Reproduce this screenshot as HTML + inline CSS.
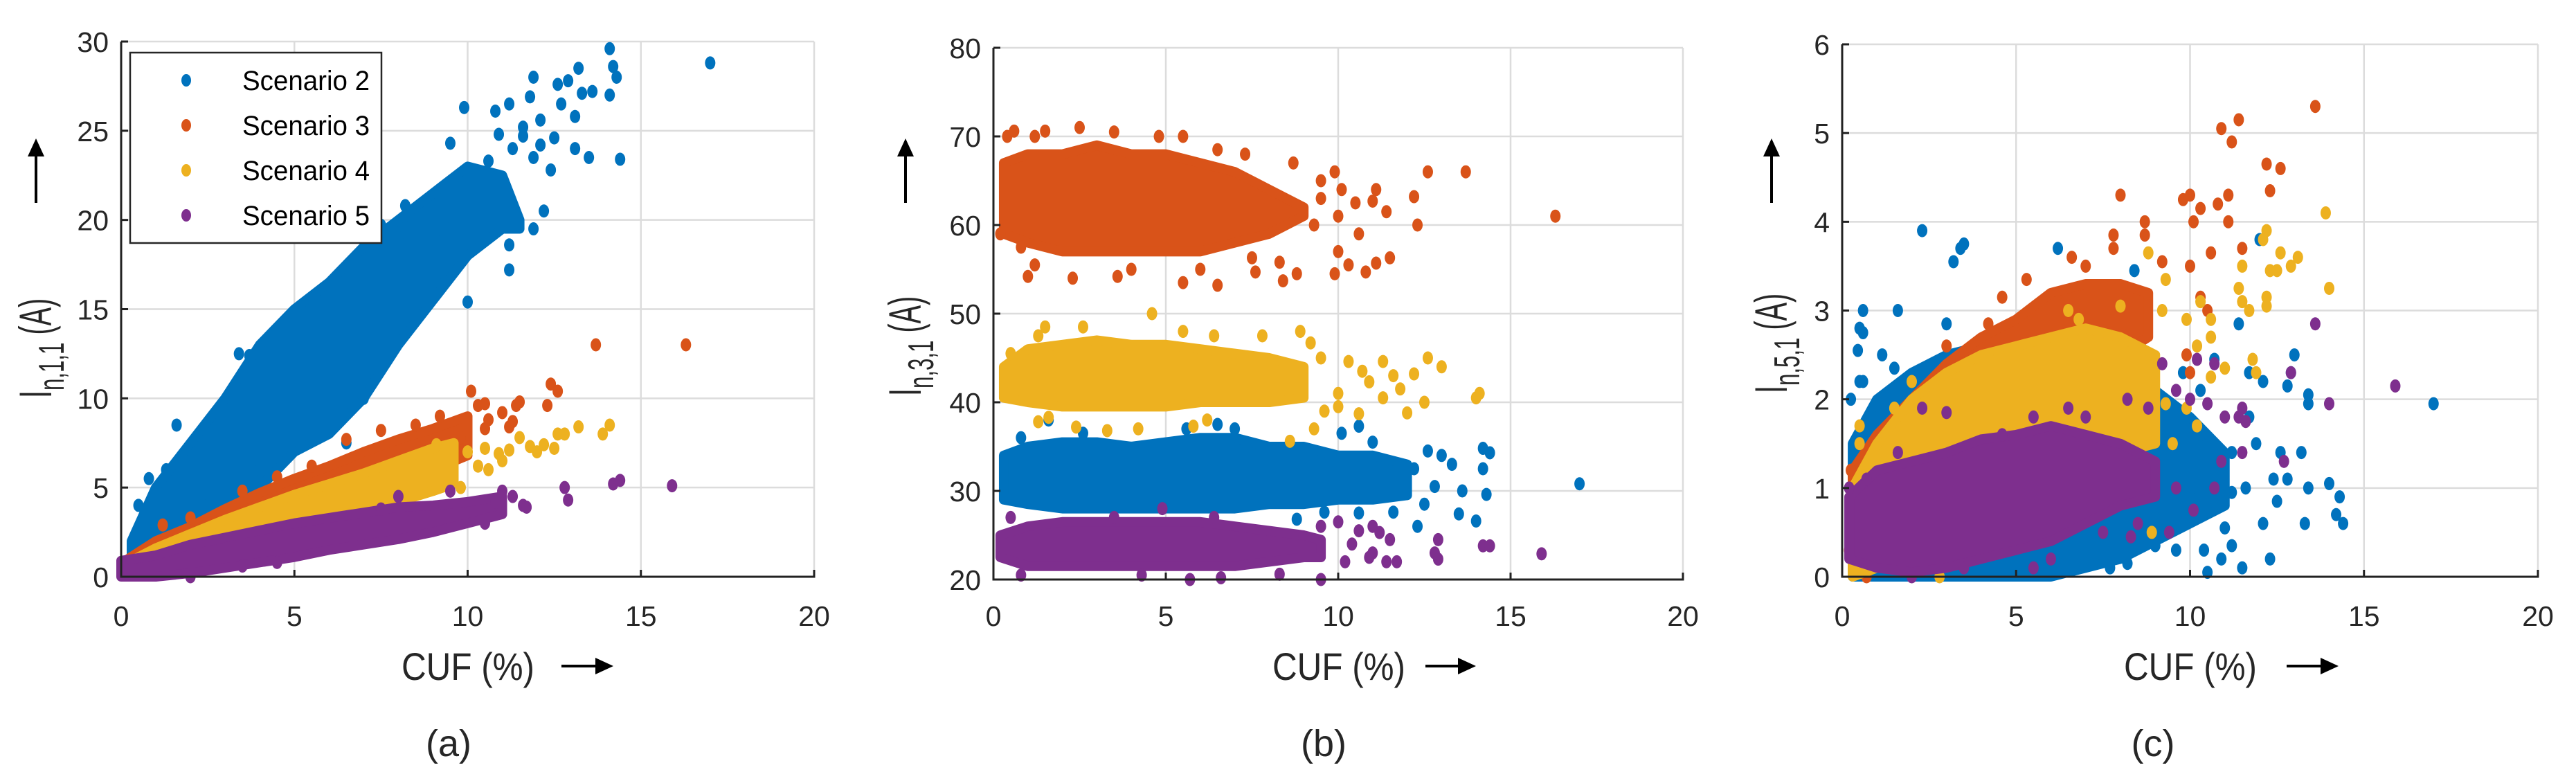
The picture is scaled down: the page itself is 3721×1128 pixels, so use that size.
<!DOCTYPE html>
<html><head><meta charset="utf-8"><style>
html,body{margin:0;padding:0;background:#fff;}
svg{display:block;font-family:"Liberation Sans",sans-serif;}
</style></head><body>
<svg id="fig" width="3721" height="1128" viewBox="0 0 3721 1128" xmlns="http://www.w3.org/2000/svg"></svg>
<script>
// ---------- DATA ----------
const xTicks = [0,5,10,15,20];
const aTicks = [0,5,10,15,20,25,30];
const bTicks = [20,30,40,50,60,70,80];
const cTicks = [0,1,2,3,4,5,6];
const seriesNames = ["Scenario 2","Scenario 3","Scenario 4","Scenario 5"];
const colors = ["#0072BD","#D95319","#EDB120","#7E2F8E"];

// Panel (a) core envelopes [x, lo, hi] and scatter points [x,y]
const a2Env = [[0.3,0.5,2],[1,1.5,5],[2,2.5,7.5],[3,3.5,10],[4,5,13],[5,7,15],[6,8,16.5],[7,10,18.5],[8,13,20],[9,15.5,21.5],[10,18,23],[11,19.5,22.5],[11.5,19.5,20]];
const a2Pts = [[0.5,4],[0.8,5.5],[1.6,8.5],[1.3,6],[2.3,7.2],[3.4,12.5],[3.7,12.4],[4.5,13.6],[5.2,14.2],[5.6,15],[6.1,16.5],[2.5,4],[3,3.5],[4,6],[5.5,8],[6.5,7.5],[7,10],[7.4,11.8],[8.2,13.6],[9.3,16.4],[10,15.4],[9.1,18.8],[10.6,21.5],[9.5,22],[8.2,20.8],[7.5,19.7],[9.5,19.5],[11.2,17.2],[11.2,18.6],[11,20],[11.9,19.5],[12.2,20.5],[11.9,23.5],[12.4,22.8],[11.3,24],[11.6,24.7],[10.9,24.8],[12.1,24.2],[12.5,24.6],[13.1,24],[13.5,23.5],[14.4,23.4],[12.1,25.6],[11.2,26.5],[11.8,26.9],[11.6,25.2],[9.9,26.3],[9.5,24.3],[12.7,26.5],[13.1,25.8],[13.3,27.1],[13.6,27.2],[13.2,28.5],[12.6,27.6],[12.9,27.8],[11.9,28],[14.1,27],[14.2,28.6],[14.3,28],[14.1,29.6],[17,28.8],[10.8,26.1],[10.6,23.3],[10.3,22],[8.3,20.3],[8,19]];
const a3Env = [[0.2,0,1],[1,0.5,2],[2,1.2,2.8],[3,1.8,3.8],[4,2.5,4.7],[5,3.2,5.5],[6,3.9,6.2],[7,4.6,7],[8,5.3,7.7],[9,6,8.3],[10,6.8,9]];
const a3Pts = [[1.2,2.9],[2,3.3],[3.5,4.8],[4.5,5.6],[5.5,6.2],[6.5,7.7],[7.5,8.2],[8.5,8.5],[9.2,9],[10.1,10.4],[10.3,9.6],[10.5,9.7],[10.6,8.8],[11,9.2],[11.2,8.4],[11.4,9.6],[11.5,9.8],[11.3,8.7],[12.3,9.6],[12.4,10.8],[12.6,10.4],[13.7,13],[16.3,13],[9.8,7.8],[10.5,8.3],[0.5,0.3],[0.8,0.1]];
const a4Env = [[0.2,0,0.8],[1,0.3,1.6],[2,0.8,2.4],[3,1.3,3.2],[4,1.8,3.9],[5,2.4,4.6],[6,3,5.2],[7,3.6,5.8],[8,4.2,6.5],[9,4.8,7.2],[9.6,5.2,7.5]];
const a4Pts = [[9.5,6.5],[10,7],[10.3,6.2],[10.6,6],[10.5,7.2],[10.9,6.9],[11.2,7.1],[11.5,7.8],[11.8,7.3],[12,7],[12.2,7.4],[12.5,7.2],[12.8,8],[13.2,8.4],[13.9,8],[14.1,8.5],[9.8,5],[9.1,7.4],[11,6.5],[12.6,8]];
const a5Env = [[0,0,0.9],[1,0,1.2],[2,0.2,1.8],[3,0.5,2.2],[4,0.8,2.6],[5,1.1,3],[6,1.5,3.3],[7,1.8,3.6],[8,2.1,3.9],[9,2.5,4],[10,3,4.2],[11,3.5,4.5]];
const a5Pts = [[2,0],[3.5,0.6],[4.5,0.8],[10.5,3],[10.8,4.2],[11,4.8],[11.3,4.5],[11.6,4],[11.7,3.9],[12.8,5],[12.9,4.3],[14.2,5.2],[14.4,5.4],[15.9,5.1],[8,4.5],[9.5,4.8],[7.5,3.8]];

// Panel (b)
const b2Env = [[0.3,29,34],[1,28.5,35],[2,28,35.5],[3,28,35.5],[4,28,35],[5,28,35.5],[6,28,36],[7,28,36],[8,28.5,35],[9,28.5,35],[10,29,34],[11,29,34],[12,29.5,33]];
const b2Pts = [[0.8,36],[2.6,36.5],[5.6,37],[6.5,37.5],[7,37],[10.1,36.5],[10.6,37.3],[11,35.5],[12.6,34.5],[13,34],[13.3,33],[13.6,30],[14.2,34.8],[14.4,34.3],[14.3,29.6],[14.2,32.5],[13.5,27.4],[14,26.6],[12.8,30.5],[12.2,32.5],[11.6,27.6],[10.6,27.5],[9.6,27.6],[8.8,26.8],[12.3,26],[17,30.8],[1.6,38],[12.5,28.5]];
const b3Env = [[0.3,59,67],[1,58,68],[2,57,68],[3,57,69],[4,57,68],[5,57,68],[6,57,67],[7,58,66],[8,59,64],[8.5,60,63],[9,61,62]];
const b3Pts = [[0.4,70],[0.6,70.6],[1.2,70],[1.5,70.6],[2.5,71],[3.5,70.5],[4.8,70],[5.5,70],[6.5,68.5],[7.3,68],[8.7,67],[9.5,65],[9.9,66],[10.1,64],[10.5,62.5],[11.1,64],[11,62.7],[11.4,61.5],[12.2,63.2],[12.3,60],[12.6,66],[13.7,66],[16.3,61],[10.6,59],[10,57],[9.9,54.5],[10.3,55.5],[10.8,54.7],[11.1,55.7],[11.5,56.3],[8.3,55.8],[8.4,53.7],[8.8,54.5],[7.5,56.3],[7.6,54.7],[6.5,53.2],[5.5,53.5],[6,55],[4,55],[3.6,54.2],[2.3,54],[1,54.2],[1.2,55.5],[0.8,57.5],[0.2,59],[9.3,60],[9.5,63],[10,61]];
const b4Env = [[0.3,40.5,44],[1,40,46],[2,39.5,46.5],[3,39.5,47],[4,39.5,46.5],[5,39.5,46.5],[6,40,46],[7,40,45.5],[8,40,45],[9,40.5,44]];
const b4Pts = [[0.5,45.5],[1.3,47.5],[1.5,48.5],[2.6,48.5],[4.6,50],[5.5,48],[6.4,47.5],[7.8,47.5],[8.9,48],[9.2,46.7],[9.5,45],[10,41],[10.3,44.6],[10.7,43.5],[10.9,42.3],[11.3,44.6],[11.6,43],[11.8,41.5],[12.2,43.2],[12.5,40],[12.6,45],[13,44],[12,38.8],[11.3,40.5],[10.6,38.7],[9.6,39],[9.3,37],[8.6,35.6],[6.2,38],[5.8,37.3],[3.3,36.8],[4.2,37],[2.4,37.2],[1.3,37.8],[1.6,38.3],[14,40.5],[14.1,41],[10,39.5]];
const b5Env = [[0.2,22.5,25],[1,21.5,26],[2,21.5,26.5],[3,21.5,26.5],[4,21.5,26.5],[5,21.5,26.5],[6,21.5,26.5],[7,21.5,26],[8,22,25.5],[9,22.5,25],[9.5,22.5,24.5]];
const b5Pts = [[0.5,27],[3.5,27],[4.9,28],[6.4,27],[9.5,26],[10,26.5],[10.6,25.5],[11,26],[11.2,25.3],[11.5,24.5],[11,23],[10.4,24],[10.2,22],[11.4,22],[11.7,22],[12.9,24.5],[12.8,23],[12.9,22.3],[14.2,23.8],[14.4,23.8],[15.9,22.9],[0.8,20.5],[4.3,20.5],[5.7,20],[6.6,20.2],[8.3,20.6],[9.5,20],[10.9,22.5]];

// Panel (c)
const c2Env = [[0.3,0,1.5],[1,0,2],[2,0,2.3],[3,0,2.5],[4,0,2.6],[5,0,2.6],[6,0,2.5],[7,0.1,2.4],[8,0.2,2.3],[9,0.4,2.1],[10,0.6,1.8],[11,0.8,1.4]];
const c2Pts = [[2.3,3.9],[3.4,3.7],[3.5,3.75],[3.2,3.55],[6.2,3.7],[8.4,3.45],[12,3.8],[0.6,3],[0.5,2.8],[0.6,2.75],[1.6,3],[0.45,2.55],[1.15,2.5],[0.5,2.2],[0.6,2.2],[0.25,2],[1.5,2.35],[3,2.85],[2.5,2.35],[4.2,2.7],[9.8,2.3],[10.7,2.45],[11.4,2.85],[11.7,2.3],[12.1,2.2],[13,2.5],[12.9,2.3],[13.4,1.95],[13.4,2.05],[12.8,2.15],[11.7,1.8],[11.9,1.5],[11.2,1.4],[12.6,1.4],[13.2,1.4],[12.4,1.1],[12.8,1.1],[12.5,0.85],[13.4,1],[14,1.05],[14.3,0.9],[14.2,0.7],[14.4,0.6],[13.3,0.6],[12.1,0.6],[12.3,0.2],[11.5,0.1],[11.2,0.35],[11,0.55],[10.9,0.2],[10.5,0.05],[10.4,0.3],[9.6,0.3],[9,0.35],[8.2,0.15],[7.7,0.1],[11.2,0.95],[11.6,1],[10.7,0.85],[10.2,1],[9.4,1.25],[10.3,1.6],[17,1.95],[10.3,2.1]];
const c3Env = [[0.3,0.1,1.2],[1,0.3,1.6],[2,0.6,2],[3,0.9,2.4],[4,1.3,2.7],[5,1.7,2.9],[6,2,3.2],[7,2.3,3.3],[8,2.5,3.3],[8.8,2.7,3.2]];
const c3Pts = [[3,2.6],[4.2,2.85],[4.6,3.15],[5.3,3.35],[6.6,3.6],[7,3.5],[7.8,3.85],[8,4.3],[7.8,3.7],[8.7,3.85],[8.7,4],[9.2,3.55],[9.8,4.25],[10,4.3],[10.1,4],[10.3,4.15],[10,3.5],[10.3,3.15],[10.5,3],[10.8,4.2],[11.1,4.3],[11.1,4],[10.9,5.05],[11.2,4.9],[11.4,5.15],[12.2,4.65],[12.6,4.6],[12.3,4.35],[13.6,5.3],[11.5,3.7],[10.6,3.65],[9.9,2.5],[10,2.3],[0.2,0.3],[0.3,0.5],[0.25,1.2],[0.7,0]];
const c4Env = [[0.3,0,1],[1,0.1,1.5],[2,0.3,2],[3,0.5,2.3],[4,0.7,2.5],[5,0.9,2.6],[6,1.1,2.7],[7,1.3,2.8],[8,1.4,2.7],[9,1.5,2.5]];
const c4Pts = [[0.5,1.7],[0.5,1.5],[2,2.2],[4.5,2.5],[6.5,3],[6.8,2.9],[8,3.05],[8.8,3.65],[9.3,3.35],[9.2,3],[9.9,2.9],[10.2,2.6],[10.3,3.1],[10.6,2.9],[10.6,2.7],[11,2.35],[11.4,3.25],[11.5,3.5],[11.5,3.1],[11.7,3],[11.8,2.45],[11.9,2.3],[12.1,3.8],[12.2,3.9],[12.3,3.45],[12.5,3.45],[12.6,3.65],[12.9,3.5],[13.1,3.6],[13.9,4.1],[14,3.25],[12.2,3.15],[12.2,3.05],[10.6,2.25],[10.2,1.7],[9.5,1.5],[8.9,0.5],[9.3,1.95],[9.9,1.9],[2.8,0],[1.5,1.9]];
const c5Env = [[0.2,0.2,0.9],[1,0.1,1.2],[2,0.05,1.3],[3,0.1,1.4],[4,0.2,1.55],[5,0.3,1.6],[6,0.4,1.7],[7,0.6,1.6],[8,0.8,1.5],[9,0.9,1.3]];
const c5Pts = [[0.2,1],[0.7,1.1],[1.6,1.4],[2.3,1.9],[3,1.85],[4.6,1.6],[5.5,1.8],[6.5,1.9],[7,1.8],[8.2,2],[8.8,1.9],[9.2,2.4],[9.6,2.1],[10,2],[10.2,2.45],[10.5,1.95],[10.7,2.4],[11,1.8],[11.4,1.8],[11.5,1.9],[11.6,1.75],[10.9,1.3],[11.5,1.4],[9.6,1],[9.4,0.5],[8.5,0.6],[8.3,0.45],[10.1,0.75],[10.7,1],[12.7,1.3],[12.9,2.3],[13.6,2.85],[14,1.95],[15.9,2.15],[2,0],[3.5,0.1],[5.5,0.1],[6,0.2],[7.5,0.5]];

// ---------- DRAW ----------
const NS = "http://www.w3.org/2000/svg";
const svg = document.getElementById("fig");
function mk(tag, attrs, parent){
  const e = document.createElementNS(NS, tag);
  for (const k in attrs) e.setAttribute(k, attrs[k]);
  (parent||svg).appendChild(e);
  return e;
}
const panels = [
  {id:"a", L:175, R:1176, T:60, B:833, yMin:0, yMax:30, yTicks:aTicks, sub:"n,1,1",
   ylx:52, yTextY:575, xlabC:676, arr:[811,886], capX:648,
   env:[a2Env,a3Env,a4Env,a5Env], pts:[a2Pts,a3Pts,a4Pts,a5Pts]},
  {id:"b", L:1435, R:2431, T:69, B:837, yMin:20, yMax:80, yTicks:bTicks, sub:"n,3,1",
   ylx:1308, yTextY:572, xlabC:1934, arr:[2059,2132], capX:1912,
   env:[b2Env,b3Env,b4Env,b5Env], pts:[b2Pts,b3Pts,b4Pts,b5Pts]},
  {id:"c", L:2661, R:3666, T:64, B:833, yMin:0, yMax:6, yTicks:cTicks, sub:"n,5,1",
   ylx:2559, yTextY:568, xlabC:3164, arr:[3303,3378], capX:3110,
   env:[c2Env,c3Env,c4Env,c5Env], pts:[c2Pts,c3Pts,c4Pts,c5Pts]}
];
panels.forEach(p => {
  const sx = v => p.L + (v - 0) / 20 * (p.R - p.L);
  const sy = v => p.B - (v - p.yMin) / (p.yMax - p.yMin) * (p.B - p.T);
  const g = mk("g", {});
  
  
  xTicks.forEach(t => {
    const l = mk("line", {x1:sx(t), x2:sx(t), y1:p.T, y2:p.B, stroke:"#dcdcdc", "stroke-width":2.5}, g);
    
    
  });
  p.yTicks.forEach(t => {
    const l = mk("line", {x1:p.L, x2:p.R, y1:sy(t), y2:sy(t), stroke:"#dcdcdc", "stroke-width":2.5}, g);
    
    
  });
  for (let s = 0; s < 4; s++) {
    const sg = mk("g", {fill:colors[s]}, g);
    
    
    const env = p.env[s];
    let d = "M" + env.map(e => sx(e[0]) + "," + sy(e[2])).join(" L");
    d += " L" + env.slice().reverse().map(e => sx(e[0]) + "," + sy(e[1])).join(" L") + " Z";
    const path = mk("path", {d:d, fill:colors[s], stroke:colors[s], "stroke-width":14, "stroke-linejoin":"round"}, sg);
    
    
    p.pts[s].forEach(pt => {
      const c = mk("ellipse", {cx:sx(pt[0]), cy:sy(pt[1]), rx:7.5, ry:9.5}, sg);
      
      
    });
  }
  const ax = mk("path", {d:`M${p.L},${p.T} L${p.L},${p.B} L${p.R},${p.B} L${p.R},${p.B-10}`, fill:"none", stroke:"#222", "stroke-width":3}, g);
  
  
  xTicks.forEach(t => {
    const tx = mk("text", {x:sx(t), y:904, "font-size":41, "text-anchor":"middle", fill:"#262626"}, g);
    tx.textContent = t;
    
    
    mk("line", {x1:sx(t), x2:sx(t), y1:p.B, y2:p.B-10, stroke:"#222", "stroke-width":3}, g);
  });
  p.yTicks.forEach(t => {
    const tx = mk("text", {x:p.L-18, y:sy(t)+15, "font-size":41, "text-anchor":"end", fill:"#262626"}, g);
    tx.textContent = t;
    
    
    mk("line", {x1:p.L, x2:p.L+10, y1:sy(t), y2:sy(t), stroke:"#222", "stroke-width":3}, g);
  });
  const xl = mk("text", {x:p.xlabC, y:982, "font-size":56, "text-anchor":"middle", fill:"#262626", textLength:192, lengthAdjust:"spacingAndGlyphs"}, g);
  xl.textContent = "CUF (%)";
  
  
  mk("line", {x1:p.arr[0], x2:p.arr[1]-20, y1:962, y2:962, stroke:"#000", "stroke-width":4}, g);
  mk("polygon", {points:`${p.arr[1]},962 ${p.arr[1]-26},950 ${p.arr[1]-26},974`, fill:"#000"}, g);
  const yl = mk("text", {x:0, y:0, "font-size":66, fill:"#262626", transform:`translate(${p.ylx+22},${p.yTextY}) rotate(-90) scale(0.6,1)`}, g);
  
  
  const t1 = mk("tspan", {}, yl); t1.textContent = "I";
  const t2 = mk("tspan", {"font-size":52, dy:18}, yl); t2.textContent = p.sub;
  const t3 = mk("tspan", {dy:-18}, yl); t3.textContent = "  (A)";
  mk("line", {x1:p.ylx, x2:p.ylx, y1:293, y2:222, stroke:"#000", "stroke-width":4}, g);
  mk("polygon", {points:`${p.ylx},200 ${p.ylx-12},226 ${p.ylx+12},226`, fill:"#000"}, g);
  const cap = mk("text", {x:p.capX, y:1092, "font-size":54, "text-anchor":"middle", fill:"#262626"}, g);
  cap.textContent = "(" + p.id + ")";
  
  
});
const lg = mk("g", {});


mk("rect", {x:188, y:76, width:363, height:275, fill:"#fff", stroke:"#262626", "stroke-width":2.5}, lg);
const legY = [116,181,246,311];
seriesNames.forEach((n, i) => {
  const e = mk("g", {}, lg);
  
  
  mk("ellipse", {cx:269, cy:legY[i], rx:7, ry:9, fill:colors[i]}, e);
  const t = mk("text", {x:350, y:legY[i]+14, "font-size":40, fill:"#000", textLength:184, lengthAdjust:"spacingAndGlyphs"}, e);
  t.textContent = n;
});
</script>
</body></html>
